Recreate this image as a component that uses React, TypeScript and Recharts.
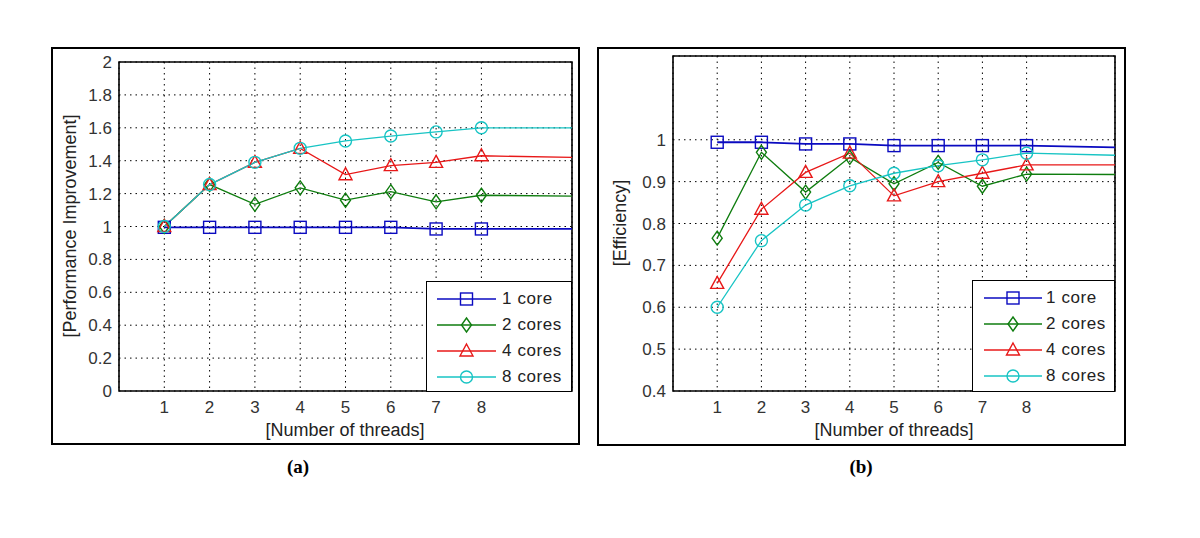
import React from 'react';
import { LineChart, Line, XAxis, YAxis, CartesianGrid, ReferenceArea } from 'recharts';

const threads = [1, 2, 3, 4, 5, 6, 7, 8];
const edgeThread = 10; // lines run on flat to the right edge of the axes
const threadTicks = [1, 2, 3, 4, 5, 6, 7, 8];

const seriesNames = ['1 core', '2 cores', '4 cores', '8 cores'];

// (a) performance improvement; last value is the level at the right edge
const perf1 = [0.995, 0.995, 0.995, 0.995, 0.995, 0.995, 0.985, 0.985, 0.985];
const perf2 = [1.0, 1.255, 1.135, 1.235, 1.16, 1.212, 1.15, 1.19, 1.185];
const perf4 = [1.0, 1.255, 1.39, 1.475, 1.315, 1.37, 1.39, 1.43, 1.42];
const perf8 = [1.0, 1.255, 1.39, 1.475, 1.52, 1.55, 1.575, 1.6, 1.6];
const perfTicks = [0, 0.2, 0.4, 0.6, 0.8, 1, 1.2, 1.4, 1.6, 1.8, 2];

// (b) efficiency
const eff1 = [0.994, 0.994, 0.99, 0.99, 0.986, 0.986, 0.986, 0.986, 0.982];
const eff2 = [0.765, 0.97, 0.875, 0.958, 0.895, 0.946, 0.889, 0.918, 0.917];
const eff4 = [0.657, 0.834, 0.922, 0.968, 0.866, 0.9, 0.92, 0.94, 0.94];
const eff8 = [0.6, 0.759, 0.844, 0.89, 0.92, 0.938, 0.952, 0.968, 0.963];
const effTicks = [0.4, 0.5, 0.6, 0.7, 0.8, 0.9, 1];

const colors = ['#0a0ac0', '#0f7d0f', '#e81818', '#17c4c4'];
const shapes = ['square', 'diamond', 'triangle', 'circle'];
const keys = ['c1', 'c2', 'c4', 'c8'];

const sans = '"Liberation Sans", Arial, sans-serif';

const buildRows = (cols: number[][]) =>
  [...threads, edgeThread].map((t, i) => ({
    x: t,
    c1: cols[0][i],
    c2: cols[1][i],
    c4: cols[2][i],
    c8: cols[3][i],
  }));

const perfRows = buildRows([perf1, perf2, perf4, perf8]);
const effRows = buildRows([eff1, eff2, eff4, eff8]);

const Marker = ({ shape, cx, cy, color }: { shape: string; cx: number; cy: number; color: string }) => {
  const common = { fill: 'none', stroke: color, strokeWidth: 1.4 };
  if (shape === 'square') return <rect x={cx - 6} y={cy - 6} width={12} height={12} {...common} />;
  if (shape === 'diamond')
    return <polygon points={`${cx},${cy - 7} ${cx + 5},${cy} ${cx},${cy + 7} ${cx - 5},${cy}`} {...common} />;
  if (shape === 'triangle')
    return <polygon points={`${cx},${cy - 7} ${cx + 6.5},${cy + 5} ${cx - 6.5},${cy + 5}`} {...common} />;
  return <circle cx={cx} cy={cy} r={6} {...common} />;
};

const makeDot = (shape: string, color: string) => (props: any) => {
  const { cx, cy, index } = props;
  if (index >= threads.length || cx == null || cy == null) return <g key={`d-${shape}-${index}`} />;
  return (
    <g key={`d-${shape}-${index}`}>
      <Marker shape={shape} cx={cx} cy={cy} color={color} />
    </g>
  );
};

const LegendBox = ({ left, top, width, height, lineX0, lineX1, textX }: any) => (
  <div
    style={{
      position: 'absolute',
      left,
      top,
      width,
      height,
      boxSizing: 'border-box',
      border: '1.5px solid #000',
      background: '#fff',
    }}
  >
    {seriesNames.map((name, i) => (
      <div key={name} style={{ position: 'absolute', left: 0, top: 4 + i * 26, height: 26, width: '100%' }}>
        <svg width={width} height={26} style={{ position: 'absolute', left: 0, top: 0 }}>
          <line x1={lineX0} x2={lineX1} y1={13} y2={13} stroke={colors[i]} strokeWidth={1.4} />
          <Marker shape={shapes[i]} cx={(lineX0 + lineX1) / 2} cy={13} color={colors[i]} />
        </svg>
        <span
          style={{
            position: 'absolute',
            left: textX,
            top: 2,
            fontFamily: sans,
            fontSize: 17,
            letterSpacing: 0.6,
            color: '#222',
            lineHeight: '22px',
          }}
        >
          {name}
        </span>
      </div>
    ))}
  </div>
);

const Panel = ({ box, margin, yWidth, xHeight, rows, yDomain, yTicks, yTitle, yTitlePos, xTitlePos, legend, caption, captionPos }: any) => (
  <>
    <div
      style={{
        position: 'absolute',
        left: box.left,
        top: box.top,
        width: box.width,
        height: box.height,
        boxSizing: 'border-box',
        border: '2.5px solid #000',
      }}
    />
    <div style={{ position: 'absolute', left: box.left, top: box.top }}>
      <LineChart width={box.width} height={box.height} data={rows} margin={margin}>
        <CartesianGrid stroke="#000" strokeDasharray="1.5 4" strokeWidth={1} />
        <XAxis
          type="number"
          dataKey="x"
          domain={[0, 10]}
          ticks={threadTicks}
          interval={0}
          axisLine={false}
          tickLine={false}
          tickSize={0}
          tickMargin={10}
          height={xHeight}
          tick={{ fill: '#333', fontSize: 17, fontFamily: sans }}
        />
        <YAxis
          type="number"
          domain={yDomain}
          ticks={yTicks}
          interval={0}
          axisLine={false}
          tickLine={false}
          tickSize={0}
          tickMargin={7}
          width={yWidth}
          allowDataOverflow
          tick={{ fill: '#333', fontSize: 17, fontFamily: sans }}
        />
        {keys.map((k, i) => (
          <Line
            key={k}
            type="linear"
            dataKey={k}
            stroke={colors[i]}
            strokeWidth={i === 0 ? 1.8 : 1.3}
            dot={makeDot(shapes[i], colors[i])}
            activeDot={false}
            isAnimationActive={false}
          />
        ))}
        <ReferenceArea
          x1={0}
          x2={10}
          y1={yDomain[0]}
          y2={yDomain[1]}
          fill="none"
          fillOpacity={0}
          stroke="#000"
          strokeWidth={1.6}
          ifOverflow="visible"
        />
      </LineChart>
    </div>
    <div
      style={{
        position: 'absolute',
        left: yTitlePos[0],
        top: yTitlePos[1],
        transform: 'translate(-50%, -50%) rotate(-90deg)',
        whiteSpace: 'nowrap',
        fontFamily: sans,
        fontSize: 18,
        color: '#222',
      }}
    >
      {yTitle}
    </div>
    <div
      style={{
        position: 'absolute',
        left: xTitlePos[0],
        top: xTitlePos[1],
        transform: 'translate(-50%, -50%)',
        whiteSpace: 'nowrap',
        fontFamily: sans,
        fontSize: 18,
        color: '#222',
      }}
    >
      [Number of threads]
    </div>
    <LegendBox {...legend} />
    <div
      style={{
        position: 'absolute',
        left: captionPos[0],
        top: captionPos[1],
        transform: 'translate(-50%, -50%)',
        fontFamily: '"Liberation Serif", "Times New Roman", serif',
        fontWeight: 'bold',
        fontSize: 19,
        color: '#000',
      }}
    >
      {caption}
    </div>
  </>
);

export default function App() {
  return (
    <div style={{ position: 'absolute', left: 0, top: 0, width: 1200, height: 538, background: '#fff', overflow: 'hidden' }}>
      <Panel
        box={{ left: 51, top: 47, width: 529, height: 398 }}
        margin={{ top: 15, right: 8, bottom: 0, left: 0 }}
        yWidth={68}
        xHeight={54}
        rows={perfRows}
        yDomain={[0, 2]}
        yTicks={perfTicks}
        yTitle="[Performance Improvement]"
        yTitlePos={[70, 226]}
        xTitlePos={[345, 430]}
        legend={{ left: 426, top: 281, width: 146, height: 111, lineX0: 10, lineX1: 69, textX: 75 }}
        caption="(a)"
        captionPos={[298, 467]}
      />
      <Panel
        box={{ left: 597, top: 47, width: 529, height: 399 }}
        margin={{ top: 9, right: 11, bottom: 0, left: 0 }}
        yWidth={76}
        xHeight={55}
        rows={effRows}
        yDomain={[0.4, 1.2]}
        yTicks={effTicks}
        yTitle="[Efficiency]"
        yTitlePos={[620, 223]}
        xTitlePos={[894, 430]}
        legend={{ left: 972, top: 280, width: 143, height: 112, lineX0: 11, lineX1: 69, textX: 73 }}
        caption="(b)"
        captionPos={[861, 467]}
      />
    </div>
  );
}
